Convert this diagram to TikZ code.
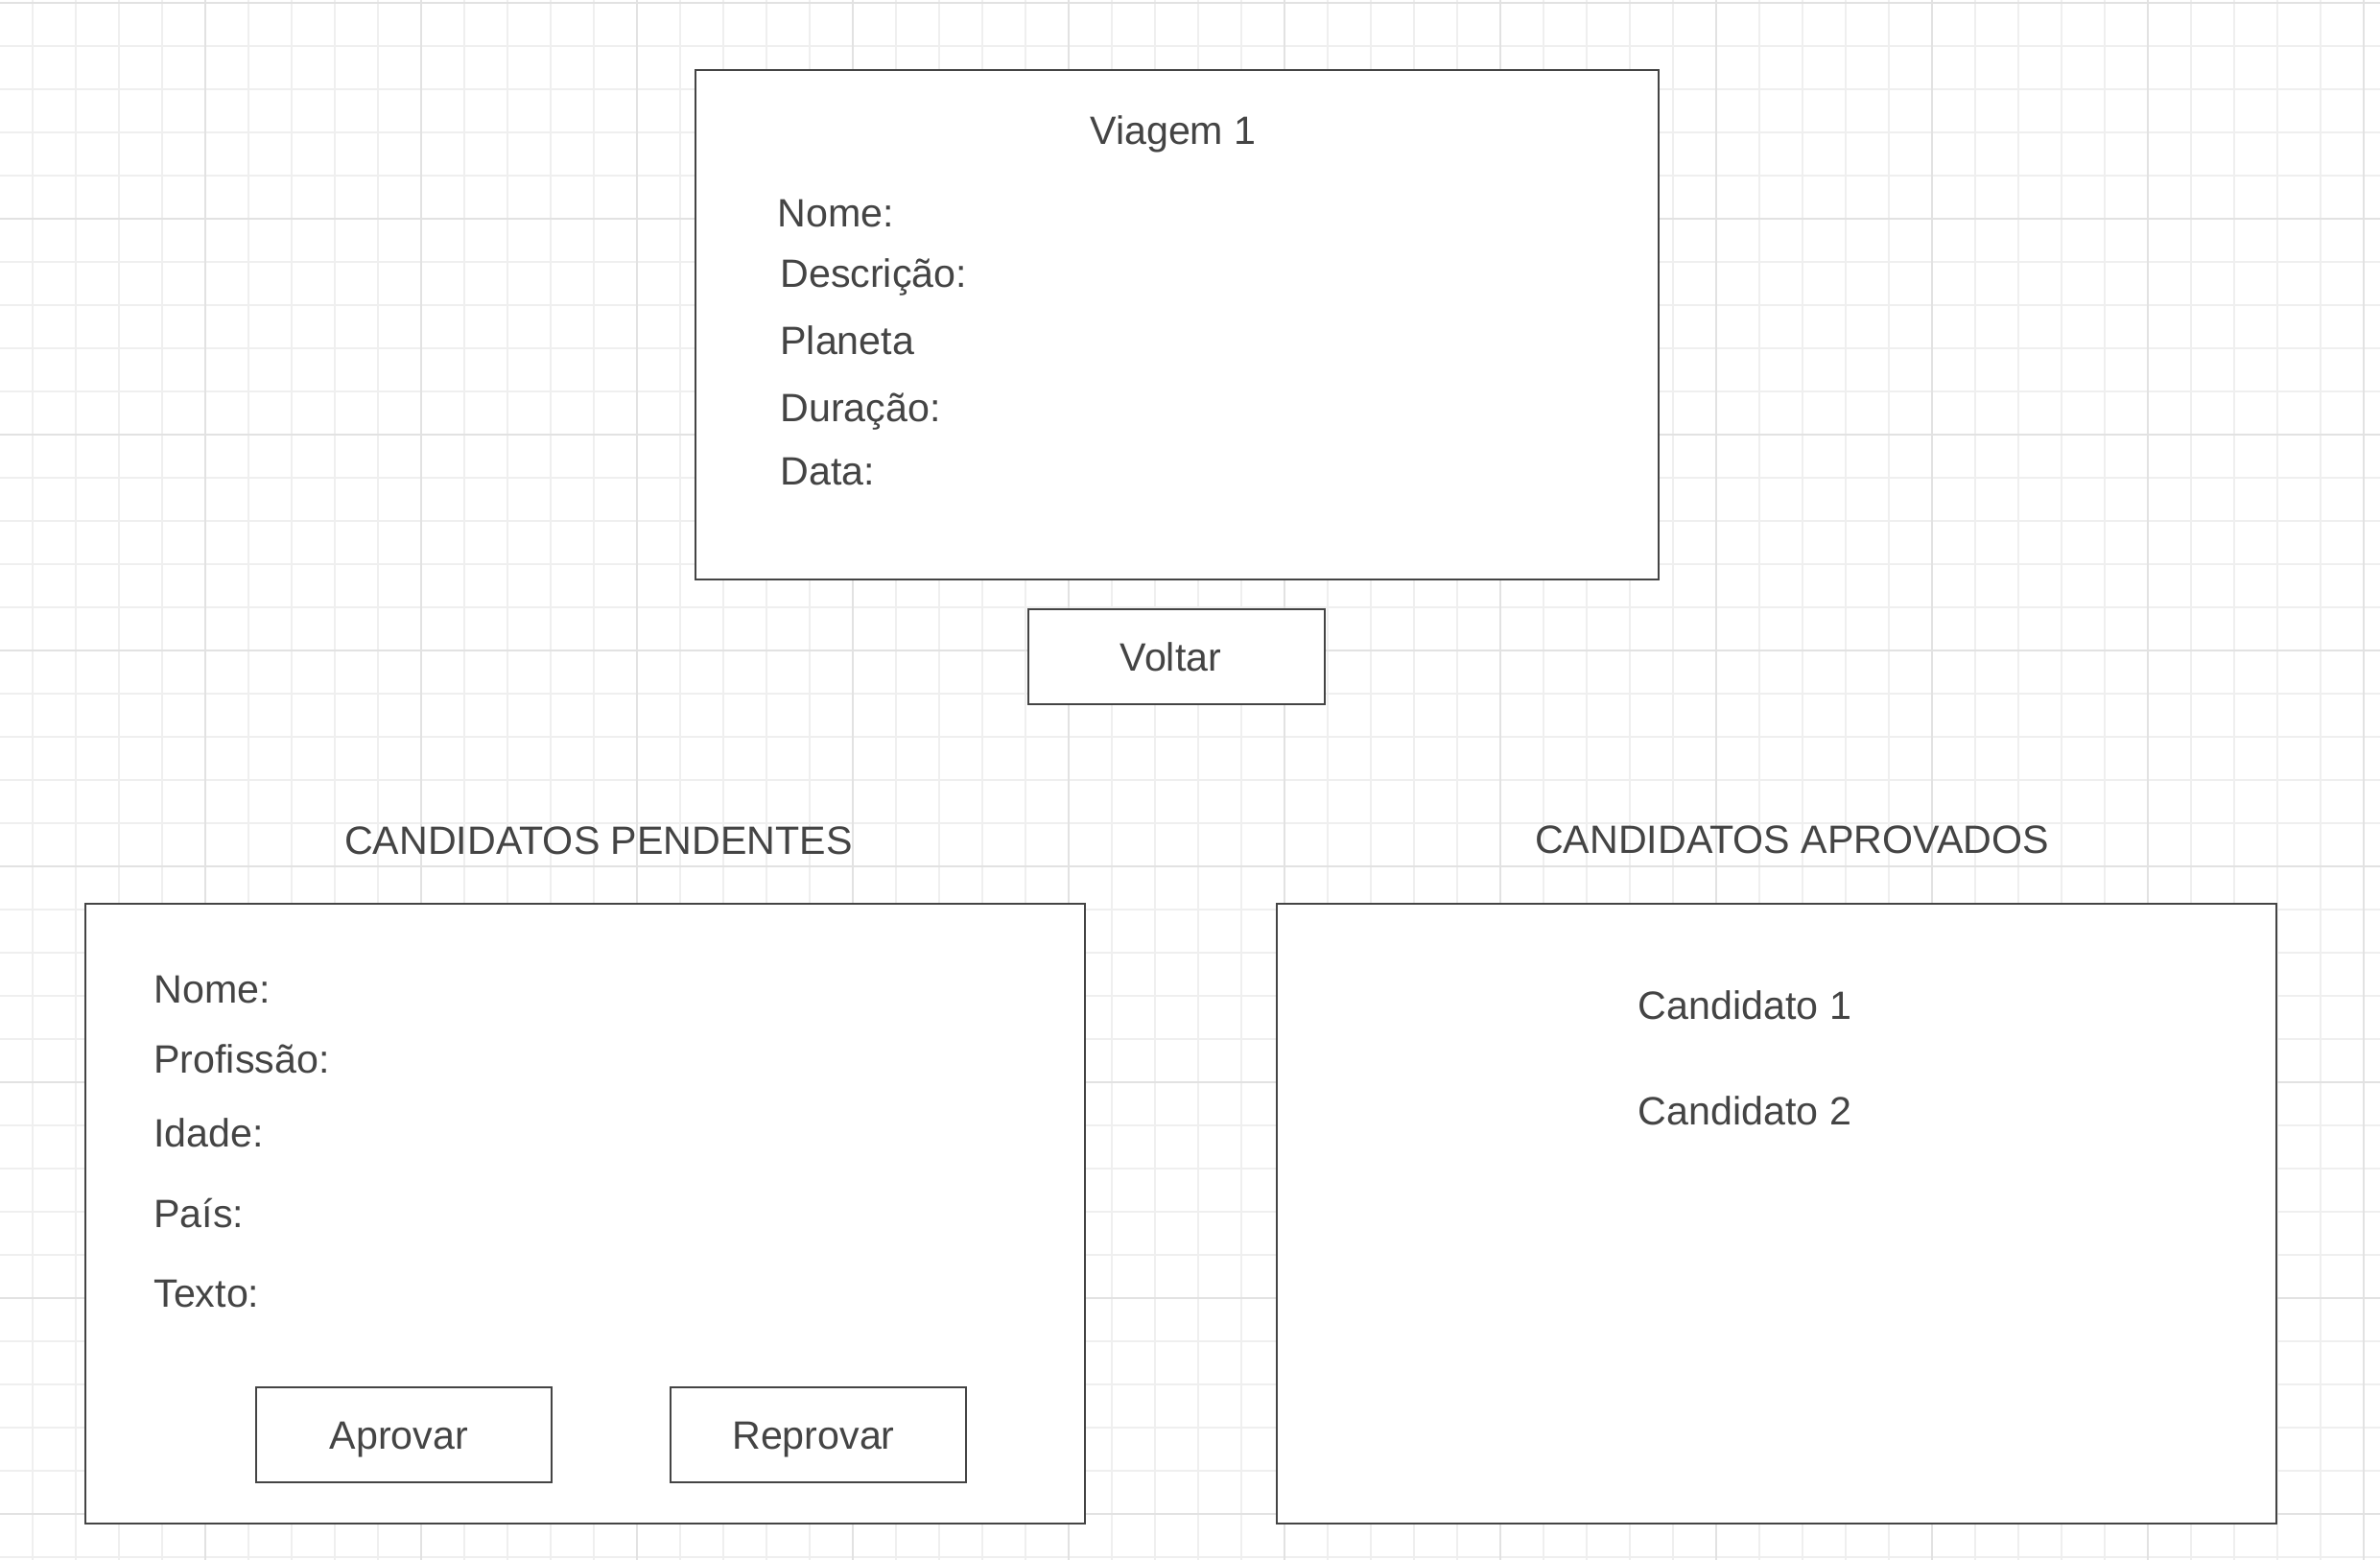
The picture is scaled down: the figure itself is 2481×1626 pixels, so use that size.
\documentclass[tikz,border=0pt]{standalone}
\usepackage{fontspec}
\setmainfont{Liberation Sans}
\definecolor{ink}{HTML}{444444}
\definecolor{gminor}{HTML}{EFEFEF}
\definecolor{gmajor}{HTML}{E2E2E2}
\begin{document}
\begin{tikzpicture}[x=0.5pt,y=-0.5pt,
  box/.style={draw=ink, line width=1pt, fill=white, inner sep=0pt},
  lbl/.style={text=ink, inner sep=0pt, font=\fontsize{20.6pt}{24pt}\selectfont},
  lft/.style={lbl, anchor=base west},
  ctr/.style={lbl, anchor=base}]
\useasboundingbox (0,0) rectangle (2481,1626);
\fill[white] (0,0) rectangle (2481,1626);
% grid
\foreach \k in {0,...,54} {\draw[gminor, line width=0.75pt] (34+45*\k,0) -- (34+45*\k,1626);}
\foreach \k in {0,...,36} {\draw[gminor, line width=0.75pt] (0,3+45*\k) -- (2481,3+45*\k);}
\foreach \k in {0,...,10} {\draw[gmajor, line width=0.9pt] (214+225*\k,0) -- (214+225*\k,1626);}
\foreach \k in {0,...,7} {\draw[gmajor, line width=0.9pt] (0,3+225*\k) -- (2481,3+225*\k);}
% boxes
\node[box, minimum width=502pt, minimum height=265.5pt] (trip) at (1227,338.5) {};
\node[box, minimum width=154.5pt, minimum height=49.5pt] (voltarbox) at (1226.5,684.5) {};
\node[box, minimum width=521pt, minimum height=323pt] (pend) at (610,1265) {};
\node[box, minimum width=521pt, minimum height=323pt] (aprov) at (1852,1265) {};
\node[box, minimum width=154pt, minimum height=49.5pt] (aprovarbox) at (421,1495.5) {};
\node[box, minimum width=154pt, minimum height=49.5pt] (reprovarbox) at (853,1495.5) {};
% top box texts
\node[ctr] (title) at (1223,150.5) {Viagem 1};
\node[lft] (tnome) at (810.5,236.5) {Nome:};
\node[lft] (tdesc) at (813,299.5) {Descrição:};
\node[lft] (tplan) at (813,369.5) {Planeta};
\node[lft] (tdur) at (813,439.5) {Duração:};
\node[lft] (tdata) at (813,506) {Data:};
\node[ctr] (voltar) at (1220.5,699.5) {Voltar};
% headings
\node[ctr] (hpend) at (624,890) {CANDIDATOS PENDENTES};
\node[ctr] (haprov) at (1868,889.5) {CANDIDATOS APROVADOS};
% pending texts
\node[lft] (pnome) at (160,1045.5) {Nome:};
\node[lft] (pprof) at (160,1118.5) {Profissão:};
\node[lft] (pidade) at (160,1195.5) {Idade:};
\node[lft] (ppais) at (160,1279.5) {País:};
\node[lft] (ptexto) at (160,1362.5) {Texto:};
\node[ctr] (aprovar) at (416,1510.5) {Aprovar};
\node[ctr] (reprovar) at (848,1510.5) {Reprovar};
% approved texts
\node[ctr] (cand1) at (1819,1062.5) {Candidato 1};
\node[ctr] (cand2) at (1819,1172.5) {Candidato 2};
\end{tikzpicture}
\end{document}
